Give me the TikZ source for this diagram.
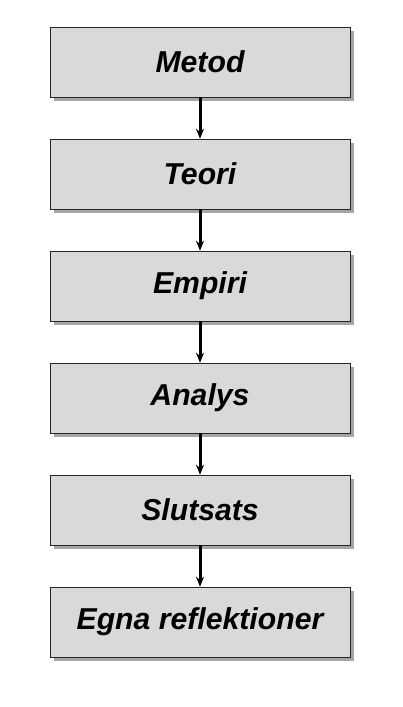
\documentclass[tikz,border=0pt]{standalone}
\usepackage{fontspec}
\setsansfont{Liberation Sans}
\usetikzlibrary{positioning,shadows,arrows.meta}
\begin{document}
\begin{tikzpicture}[
  stepbox/.style={draw=black!85, thin, fill=black!15, minimum width=300pt, minimum height=70pt,
    inner sep=0pt, font=\sffamily\bfseries\itshape\fontsize{30.2}{34}\selectfont,
    drop shadow={shadow xshift=3.5pt, shadow yshift=-3.5pt, opacity=0.7}},
  flow/.style={line width=3pt, -{Stealth[length=10pt,width=8pt]}},
  node distance=41.6pt]
  \useasboundingbox (0,0) rectangle (402pt,-707pt);
  % the six steps, top to bottom
  \node[stepbox] (metod) at (200pt,-62pt) {Metod};
  \node[stepbox, below=of metod] (teori) {Teori};
  \node[stepbox, below=of teori] (empiri) {Empiri};
  \node[stepbox, below=of empiri] (analys) {Analys};
  \node[stepbox, below=of analys] (slutsats) {Slutsats};
  \node[stepbox, below=of slutsats] (egna) {Egna reflektioner};
  % arrows between them
  \draw[flow] (metod) -- (teori);
  \draw[flow] (teori) -- (empiri);
  \draw[flow] (empiri) -- (analys);
  \draw[flow] (analys) -- (slutsats);
  \draw[flow] (slutsats) -- (egna);
\end{tikzpicture}
\end{document}
